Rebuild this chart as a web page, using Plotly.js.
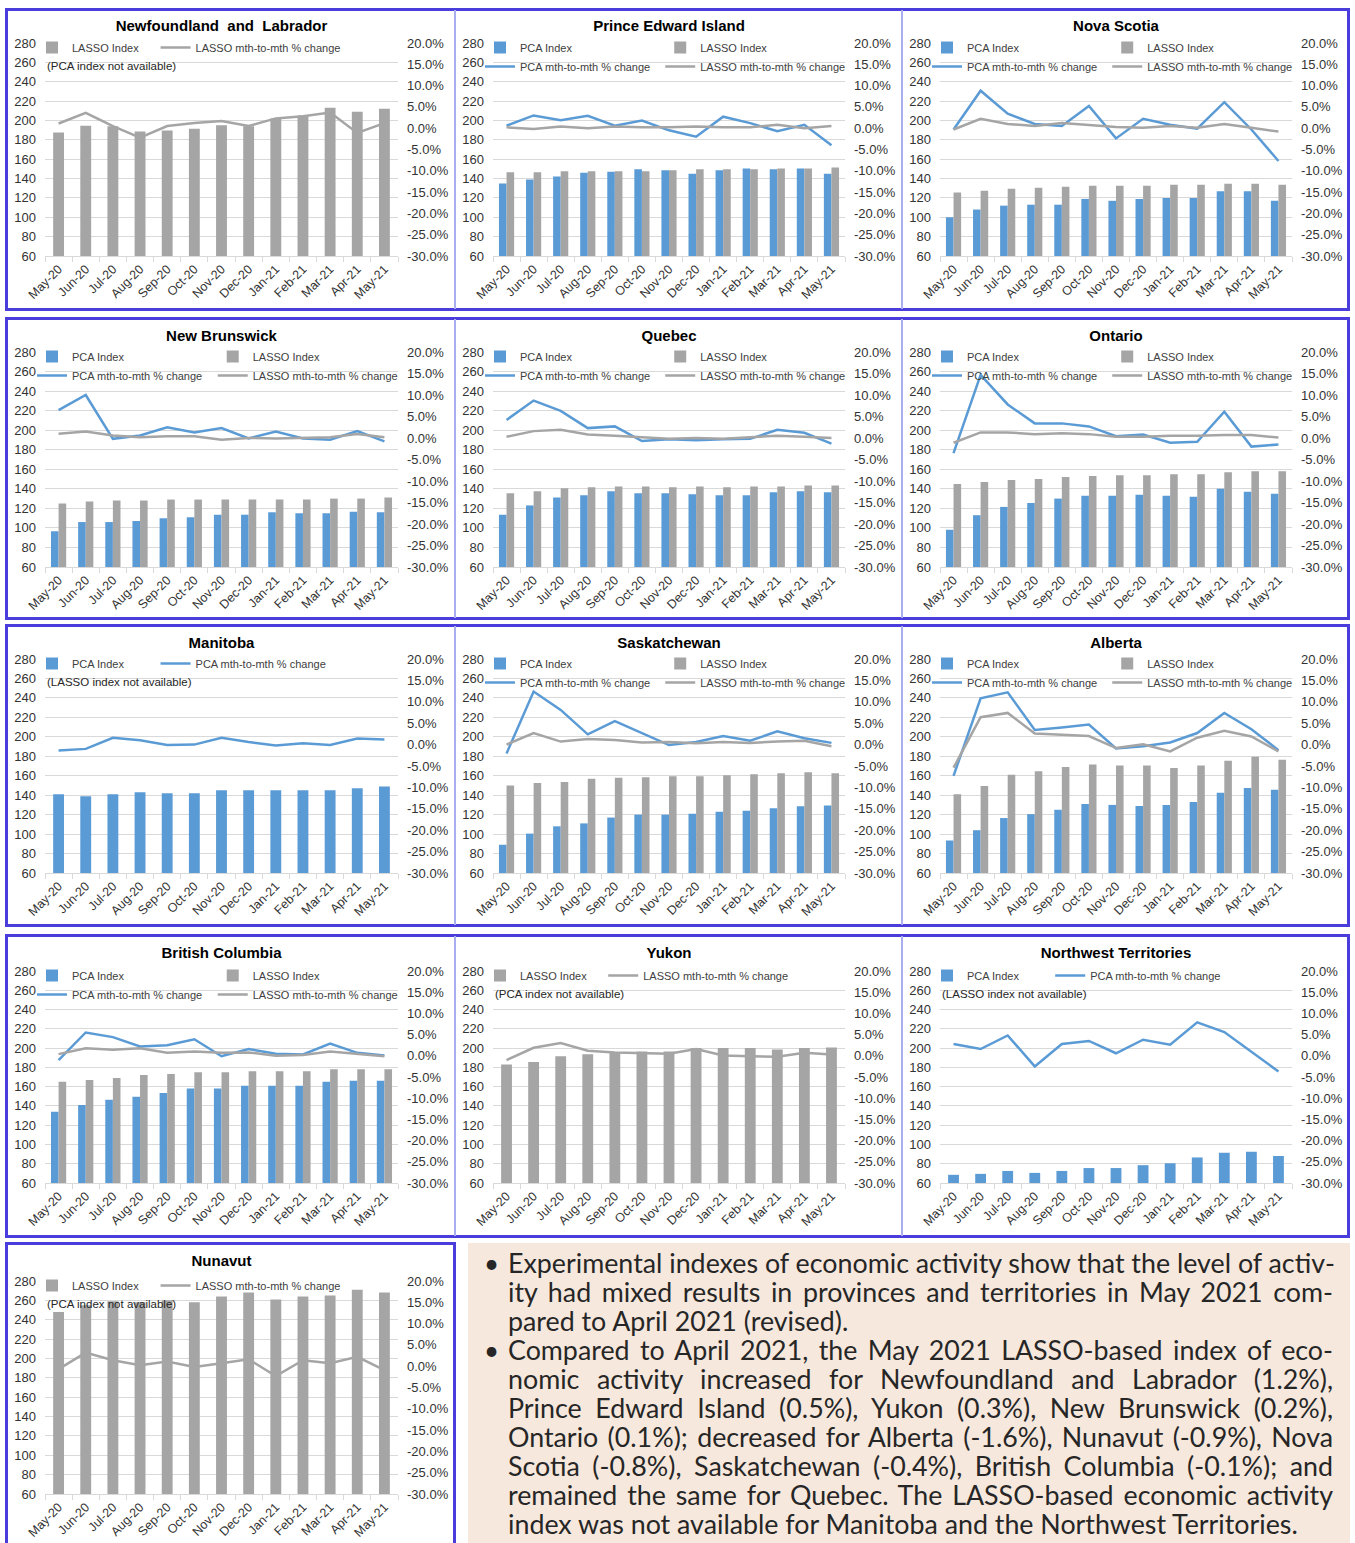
<!DOCTYPE html>
<html>
<head>
<meta charset="utf-8">
<script src="https://cdn.plot.ly/plotly-3.0.1.min.js"></script>
<style>
  html, body { margin:0; padding:0; background:#fff; }
  body { width:1355px; height:1543px; position:relative; overflow:hidden; font-family:'Liberation Sans', Arial, sans-serif; }
  .chart { position:absolute; }
  .frame { position:absolute; border:3px solid #4b3cdc; box-sizing:border-box; pointer-events:none; z-index:5; }
  .sep { position:absolute; width:2px; background:#a9aef0; pointer-events:none; z-index:5; }
  #note { position:absolute; left:468px; top:1243px; width:882px; height:300px; background:#f6e8dd; box-sizing:border-box; padding-top:6px; color:#262626; font-family:Lato, 'Open Sans', sans-serif; }
  .para { position:relative; }
  .bul { position:absolute; left:16px; top:0; font-size:26px; line-height:29px; }
  .ln { margin-left:40px; width:825px; font-size:26.8px; line-height:29px; text-align:justify; text-align-last:justify; white-space:nowrap; }
  .ln.last { text-align-last:left; }
</style>
</head>
<body>
<div id="charts"></div>

<div class="frame" style="left:5px; top:8px; width:1345px; height:303px;"></div>
<div class="frame" style="left:5px; top:317px; width:1345px; height:303px;"></div>
<div class="frame" style="left:5px; top:624px; width:1345px; height:303px;"></div>
<div class="frame" style="left:5px; top:934px; width:1345px; height:304px;"></div>
<div class="frame" style="left:5px; top:1242px; width:451px; height:320px;"></div>
<div class="sep" style="left:454px; top:10px; height:299px;"></div>
<div class="sep" style="left:901px; top:10px; height:299px;"></div>
<div class="sep" style="left:454px; top:319px; height:299px;"></div>
<div class="sep" style="left:901px; top:319px; height:299px;"></div>
<div class="sep" style="left:454px; top:626px; height:299px;"></div>
<div class="sep" style="left:901px; top:626px; height:299px;"></div>
<div class="sep" style="left:454px; top:936px; height:300px;"></div>
<div class="sep" style="left:901px; top:936px; height:300px;"></div>

<div id="note">
  <div class="para"><span class="bul">•</span>
    <div class="ln">Experimental indexes of economic activity show that the level of activ-</div>
    <div class="ln">ity had mixed results in provinces and territories in May 2021 com-</div>
    <div class="ln last">pared to April 2021 (revised).</div>
  </div>
  <div class="para"><span class="bul">•</span>
    <div class="ln">Compared to April 2021, the May 2021 LASSO-based index of eco-</div>
    <div class="ln">nomic activity increased for Newfoundland and Labrador (1.2%),</div>
    <div class="ln">Prince Edward Island (0.5%), Yukon (0.3%), New Brunswick (0.2%),</div>
    <div class="ln">Ontario (0.1%); decreased for Alberta (-1.6%), Nunavut (-0.9%), Nova</div>
    <div class="ln">Scotia (-0.8%), Saskatchewan (-0.4%), British Columbia (-0.1%); and</div>
    <div class="ln">remained the same for Quebec. The LASSO-based economic activity</div>
    <div class="ln last">index was not available for Manitoba and the Northwest Territories.</div>
  </div>
</div>

<script>
// ---------------- DATA ----------------
const months = ['May-20','Jun-20','Jul-20','Aug-20','Sep-20','Oct-20','Nov-20','Dec-20','Jan-21','Feb-21','Mar-21','Apr-21','May-21'];

const leftTickVals = [60,80,100,120,140,160,180,200,220,240,260,280];
const rightTickVals = [-30,-25,-20,-15,-10,-5,0,5,10,15,20];
const rightTickText = ['-30.0%','-25.0%','-20.0%','-15.0%','-10.0%','-5.0%','0.0%','5.0%','10.0%','15.0%','20.0%'];

// Newfoundland and Labrador
const nl_lasso     = [187.5,194.5,194,188.5,189.5,191.5,195,194,202,205,213,209,212];
const nl_lasso_chg = [1.1,3.6,0.5,-2.2,0.5,1.2,1.7,0.5,2.3,2.8,3.7,-1.1,1.2];

// Prince Edward Island
const pei_pca       = [135,139,142,146,147,149.5,148.5,145,148.5,150.5,149.5,150.5,145];
const pei_lasso     = [146.5,146.5,147.5,147.5,147.5,147.5,148.5,149.5,149.5,149.5,150.5,150.5,151.5];
const pei_pca_chg   = [0.6,3.0,1.9,2.9,0.6,1.8,-0.5,-2.0,2.7,1.2,-0.7,0.8,-4.0];
const pei_lasso_chg = [0.2,-0.2,0.4,0.0,0.4,0.2,0.2,0.4,0.2,0.2,0.8,0.0,0.5];

// Nova Scotia
const ns_pca       = [100,108,112,113,113,119,117,119,120,120,127,127,117];
const ns_lasso     = [125.5,127.5,129.5,130.5,131.5,132.5,132.5,132.5,133.5,133.5,134.5,134.5,133.5];
const ns_pca_chg   = [-0.3,8.8,3.4,1.0,0.5,5.2,-2.4,2.2,0.8,-0.1,6.1,-0.3,-7.7];
const ns_lasso_chg = [-0.3,2.2,1.0,0.5,1.2,0.8,0.3,0.1,0.5,0.1,1.0,0.1,-0.8];

// New Brunswick
const nb_pca       = [96.5,106,106,107,110,111,113.5,113.5,116,115,115,116.5,116];
const nb_lasso     = [125,127,128,128,129,129,129,129,129,129,130,130,131];
const nb_pca_chg   = [6.5,10.0,-0.2,0.6,2.5,1.3,2.3,-0.1,1.5,-0.1,-0.4,1.6,-0.8];
const nb_lasso_chg = [1.0,1.5,0.6,0.2,0.4,0.4,-0.4,0.0,-0.1,0.1,0.2,0.9,0.2];

// Quebec
const qc_pca       = [113.5,123,131,133.5,137.5,135.5,135.5,134.5,133.5,133.5,136.5,137.5,136.5];
const qc_lasso     = [135.5,137.5,140.5,141.5,142.5,142.5,141.5,142.5,141.5,142.5,142.5,143.5,143.5];
const qc_pca_chg   = [4.2,8.7,6.3,2.3,2.7,-0.7,-0.3,-0.5,-0.3,-0.2,1.9,1.2,-1.3];
const qc_lasso_chg = [0.3,1.6,1.9,0.8,0.5,0.1,-0.2,0.0,-0.2,0.2,0.5,0.3,0.0];

// Ontario
const on_pca       = [98,113,121.5,125.5,130,133,133,134,133,132,140,137,135];
const on_lasso     = [145,147,149,150,152,153,154,154,155,155,157,158,158];
const on_pca_chg   = [-3.5,14.7,7.8,3.4,3.4,2.7,0.4,0.8,-1.1,-0.9,6.1,-2.0,-1.5];
const on_lasso_chg = [-1.1,1.3,1.3,0.9,1.1,0.9,0.3,0.3,0.5,0.5,0.7,0.7,0.1];

// Manitoba
const mb_pca     = [141,139,141,143,142,142,145,145,145,145,145,147,149];
const mb_pca_chg = [-1.4,-1.0,1.6,1.0,-0.1,0.0,1.6,0.6,-0.2,0.3,-0.1,1.4,1.2];

// Saskatchewan
const sk_pca       = [89,100.5,108,111,117,120,120,121,123,124,126.5,128.5,129.5];
const sk_lasso     = [150,152.5,153.5,157,158,158.5,159.5,159.5,160.5,161.5,162.5,163.5,162.5];
const sk_pca_chg   = [-2.1,12.4,8.1,2.4,5.5,2.7,-0.1,0.6,2.0,0.9,3.1,1.5,0.4];
const sk_lasso_chg = [0.0,2.7,0.7,1.3,1.1,0.5,0.6,0.3,0.6,0.4,0.7,0.9,-0.4];

// Alberta
const ab_pca       = [93.5,104,116.5,120.5,125,131,130,129,130,133,142.5,147.5,145.5];
const ab_lasso     = [141,149.5,161,164.5,169,171.5,170.5,170.5,168,170.5,175.5,179.5,176.5];
const ab_pca_chg   = [-7.3,10.8,12.2,3.4,4.0,4.7,-0.9,-0.4,0.5,2.7,7.4,3.6,-1.3];
const ab_lasso_chg = [-5.4,6.4,7.4,2.6,2.3,2.0,-0.8,0.1,-1.6,1.6,3.2,1.9,-1.6];

// British Columbia
const bc_pca       = [134,141,146.5,149.5,153.5,158,158,161,161,161,165,166,166];
const bc_lasso     = [165,167,169,172,173,175,175,176,176,176,178,178,178];
const bc_pca_chg   = [-1.0,5.5,4.4,2.2,2.5,3.9,-0.1,1.6,0.5,0.3,2.9,0.7,0.1];
const bc_lasso_chg = [0.4,1.8,1.4,1.8,0.7,1.0,0.7,0.8,0.0,0.2,1.0,0.5,-0.1];

// Yukon
const yt_lasso     = [183,185.5,191.5,193.5,195.5,196.5,196.5,200,200,200,198.5,200,200.5];
const yt_lasso_chg = [-1.0,1.9,3.0,1.2,0.8,0.6,0.5,1.6,0.1,-0.1,-0.2,0.7,0.3];

// Northwest Territories
const nt_pca     = [68.5,69.5,72.5,70.5,72.5,75.5,75.5,78.5,80.5,86.5,91.5,92.5,88];
const nt_pca_chg = [2.8,1.6,4.8,-2.5,2.8,3.5,0.6,3.8,2.6,7.9,5.6,0.9,-3.7];

// Nunavut
const nu_lasso     = [248,255,259,258,260,258,264,268,261,264,265,271,268];
const nu_lasso_chg = [-0.7,3.2,1.4,0.2,1.1,-0.2,0.7,1.6,-2.3,1.4,0.7,2.2,-0.9];

// ---------------- LAYOUT GEOMETRY ----------------
const BLUE = '#5b9bd5', GRAY = '#a5a5a5';
const FONT = "'Liberation Sans', Arial, Helvetica, sans-serif";
const cols = [ {x0:5, x1:455, p0:45, p1:398}, {x0:455, x1:902, p0:493, p1:845}, {x0:902, x1:1350, p0:940, p1:1292} ];
const rows = [ {y0:8, y1:310, p0:43, p1:256}, {y0:318, y1:619, p0:352, p1:567}, {y0:625, y1:926, p0:659, p1:873},
               {y0:935, y1:1237, p0:971, p1:1183}, {y0:1243, y1:1543, p0:1281, p1:1494} ];

const panels = [
  {title:'Newfoundland  and  Labrador', r:0, c:0, lasso:nl_lasso, lassoChg:nl_lasso_chg, note:'(PCA index not available)'},
  {title:'Prince Edward Island', r:0, c:1, pca:pei_pca, lasso:pei_lasso, pcaChg:pei_pca_chg, lassoChg:pei_lasso_chg},
  {title:'Nova Scotia', r:0, c:2, pca:ns_pca, lasso:ns_lasso, pcaChg:ns_pca_chg, lassoChg:ns_lasso_chg},
  {title:'New Brunswick', r:1, c:0, pca:nb_pca, lasso:nb_lasso, pcaChg:nb_pca_chg, lassoChg:nb_lasso_chg},
  {title:'Quebec', r:1, c:1, pca:qc_pca, lasso:qc_lasso, pcaChg:qc_pca_chg, lassoChg:qc_lasso_chg},
  {title:'Ontario', r:1, c:2, pca:on_pca, lasso:on_lasso, pcaChg:on_pca_chg, lassoChg:on_lasso_chg},
  {title:'Manitoba', r:2, c:0, pca:mb_pca, pcaChg:mb_pca_chg, note:'(LASSO index not available)'},
  {title:'Saskatchewan', r:2, c:1, pca:sk_pca, lasso:sk_lasso, pcaChg:sk_pca_chg, lassoChg:sk_lasso_chg},
  {title:'Alberta', r:2, c:2, pca:ab_pca, lasso:ab_lasso, pcaChg:ab_pca_chg, lassoChg:ab_lasso_chg},
  {title:'British Columbia', r:3, c:0, pca:bc_pca, lasso:bc_lasso, pcaChg:bc_pca_chg, lassoChg:bc_lasso_chg},
  {title:'Yukon', r:3, c:1, lasso:yt_lasso, lassoChg:yt_lasso_chg, note:'(PCA index not available)'},
  {title:'Northwest Territories', r:3, c:2, pca:nt_pca, pcaChg:nt_pca_chg, note:'(LASSO index not available)'},
  {title:'Nunavut', r:4, c:0, lasso:nu_lasso, lassoChg:nu_lasso_chg, note:'(PCA index not available)'}
];

const container = document.getElementById('charts');

panels.forEach(function(p, i){
  const col = cols[p.c], row = rows[p.r];
  const W = col.x1 - col.x0, H = row.y1 - row.y0;
  const pw = col.p1 - col.p0, ph = row.p1 - row.p0;
  const div = document.createElement('div');
  div.className = 'chart';
  div.id = 'chart' + i;
  div.style.left = col.x0 + 'px';
  div.style.top = row.y0 + 'px';
  div.style.width = W + 'px';
  div.style.height = H + 'px';
  container.appendChild(div);

  const two = !!(p.pca && p.lasso);
  const traces = [];
  if (p.pca) traces.push({type:'bar', x:months, y:p.pca, name:'PCA Index', marker:{color:BLUE}, legend:'legend', hoverinfo:'skip'});
  if (p.lasso) traces.push({type:'bar', x:months, y:p.lasso, name:'LASSO Index', marker:{color:GRAY}, legend: two ? 'legend2' : 'legend', hoverinfo:'skip'});
  if (p.pcaChg) traces.push({type:'scatter', mode:'lines', x:months, y:p.pcaChg, name:'PCA mth-to-mth % change', yaxis:'y2', line:{color:BLUE, width:2.5}, legend: two ? 'legend' : 'legend2', hoverinfo:'skip'});
  if (p.lassoChg) traces.push({type:'scatter', mode:'lines', x:months, y:p.lassoChg, name:'LASSO mth-to-mth % change', yaxis:'y2', line:{color:GRAY, width:2.5}, legend:'legend2', hoverinfo:'skip'});

  const legFont = {family:FONT, size:11, color:'#404040'};
  const col2 = two ? 0.512 : 0.35;
  const legY = 1 + 10/ph;
  const annotations = [];
  if (p.note) {
    annotations.push({xref:'paper', yref:'paper', x:0, y:1 - 23/ph, xanchor:'left', yanchor:'middle',
      text:p.note, showarrow:false, font:{family:FONT, size:11.5, color:'#262626'}});
  }

  const layout = {
    width:W, height:H, autosize:false,
    margin:{l:col.p0-col.x0, r:col.x1-col.p1, t:row.p0-row.y0, b:row.y1-row.p1, pad:0, autoexpand:false},
    paper_bgcolor:'rgba(0,0,0,0)', plot_bgcolor:'rgba(0,0,0,0)',
    font:{family:FONT, color:'#333'},
    title:{text:'<b>'+p.title+'</b>', font:{family:FONT, size:15, color:'#000'}, x:0.5, xref:'paper', xanchor:'center',
           y:1 - 18/H, yref:'container', yanchor:'middle'},
    barmode:'group', bargap: two ? 0.44 : 0.6, bargroupgap:0,
    showlegend:true,
    legend:{x:-13/pw, xanchor:'left', y:legY, yanchor:'top', orientation:'v', bgcolor:'rgba(0,0,0,0)', font:legFont, tracegroupgap:0, itemwidth:30, itemclick:false, itemdoubleclick:false},
    legend2:{x:col2 - 13/pw, xanchor:'left', y:legY, yanchor:'top', orientation:'v', bgcolor:'rgba(0,0,0,0)', font:legFont, tracegroupgap:0, itemwidth:30, itemclick:false, itemdoubleclick:false},
    xaxis:{type:'category', tickangle:-45, tickfont:{family:FONT, size:12.5, color:'#333'}, showline:true, linecolor:'#d9d9d9', linewidth:1,
           ticks:'outside', tickson:'boundaries', ticklen:5, tickcolor:'#d9d9d9', showgrid:false, fixedrange:true, automargin:false},
    yaxis:{range:[60,280], tickvals:leftTickVals, showgrid:true, gridcolor:'#d9d9d9', gridwidth:1, zeroline:false, showline:false,
           tickfont:{family:FONT, size:13, color:'#333'}, ticklabelstandoff:8, fixedrange:true, automargin:false},
    yaxis2:{overlaying:'y', side:'right', range:[-30,20], tickvals:rightTickVals, ticktext:rightTickText, showgrid:false, zeroline:false,
           showline:false, tickfont:{family:FONT, size:13, color:'#333'}, ticklabelstandoff:8, fixedrange:true, automargin:false},
    annotations:annotations
  };
  Plotly.newPlot(div, traces, layout, {displayModeBar:false, staticPlot:true});
});
</script>
</body>
</html>
